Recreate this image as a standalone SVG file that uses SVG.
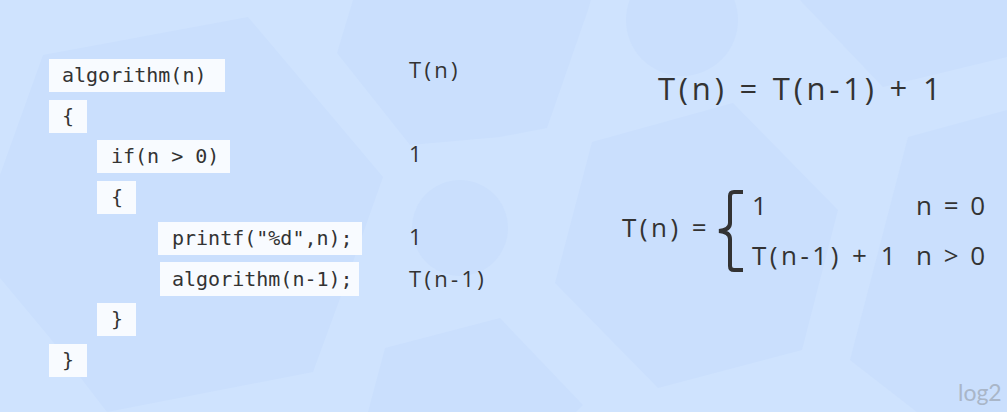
<svg xmlns="http://www.w3.org/2000/svg" width="1007" height="412" viewBox="0 0 1007 412">
<style>
.bg{fill:#cfe3fe}
.dk{fill:#cadffd}
.box{fill:#f8fbff}
.code{font-family:"DejaVu Sans Mono","Liberation Mono",monospace;font-size:20px;fill:#333333}
.cost{font-family:"Open Sans","Noto Sans",sans-serif;font-size:22px;letter-spacing:3.3px;fill:#333333}
.eq{font-family:"Open Sans","Noto Sans",sans-serif;font-size:31px;letter-spacing:3.8px;fill:#333333}
.pw{font-family:"Open Sans","Noto Sans",sans-serif;font-size:26px;letter-spacing:3.5px;fill:#333333}
.pc{letter-spacing:2.5px}
.wm{font-family:"Lato","Open Sans",sans-serif;font-size:23px;fill:#a9b6c8}
</style>
<g id="background">
<rect class="bg" x="0" y="0" width="1007" height="412"/>
<polygon class="dk" points="43,55 248,17 383,177 342,293 313,372 107,412 50,338 0,278 0,175"/>
<polygon class="dk" points="353,0 337,53 410,145 500,137 547,128 588,10 591,0"/>
<circle class="dk" cx="682" cy="20" r="56"/>
<circle class="dk" cx="460" cy="228" r="48"/>
<polygon class="dk" points="592,142 733,103 838,210 802,350 658,388 555,283"/>
<polygon class="dk" points="908,137 1007,110 1007,412 917,412 850,360"/>
<polygon class="dk" points="800,0 883,87 1007,57 1007,0"/>
<polygon class="dk" points="385,348 500,318 583,405 576,412 368,412"/>
</g>
<g id="code">
<g id="line1"><rect class="box" x="49" y="59" width="176" height="33"/><text class="code" x="62" y="82">algorithm(n)</text></g>
<g id="line2"><rect class="box" x="49" y="100" width="38" height="33"/><text class="code" x="62" y="123">{</text></g>
<g id="line3"><rect class="box" x="97" y="140" width="133" height="33"/><text class="code" x="111" y="163" xml:space="preserve">if(n &gt; 0)</text></g>
<g id="line4"><rect class="box" x="97" y="181" width="39" height="33"/><text class="code" x="111" y="204">{</text></g>
<g id="line5"><rect class="box" x="158" y="222" width="204" height="33"/><text class="code" x="172" y="245">printf("%d",n);</text></g>
<g id="line6"><rect class="box" x="160" y="262" width="199" height="34"/><text class="code" x="172" y="286">algorithm(n-1);</text></g>
<g id="line7"><rect class="box" x="97" y="303" width="39" height="33"/><text class="code" x="111" y="326">}</text></g>
<g id="line8"><rect class="box" x="49" y="344" width="38" height="33"/><text class="code" x="62" y="367">}</text></g>
</g>
<g id="costs">
<text class="cost" x="409" y="78">T(n)</text>
<text class="cost" x="409" y="162">1</text>
<text class="cost" x="409" y="245">1</text>
<text class="cost" x="409" y="287">T(n-1)</text>
</g>
<g id="recurrence">
<text class="eq" x="658" y="100" xml:space="preserve">T(n) = T(n-1) + 1</text>
</g>
<g id="piecewise">
<text class="pw" x="622" y="237" xml:space="preserve">T(n) =</text>
<path d="M743,192 L734,192 Q730,192 730,196 L730,223 Q730,230 719,231 Q730,232 730,239 L730,266 Q730,270 734,270 L743,270" fill="none" stroke="#333333" stroke-width="4"/>
<text class="pw" x="752" y="215">1</text>
<text class="pw pc" x="916" y="215" xml:space="preserve">n = 0</text>
<text class="pw" x="752" y="265" xml:space="preserve">T(n-1) + 1</text>
<text class="pw pc" x="916" y="265" xml:space="preserve">n &gt; 0</text>
</g>
<g id="watermark">
<text class="wm" x="958" y="401">log2</text>
</g>
</svg>
